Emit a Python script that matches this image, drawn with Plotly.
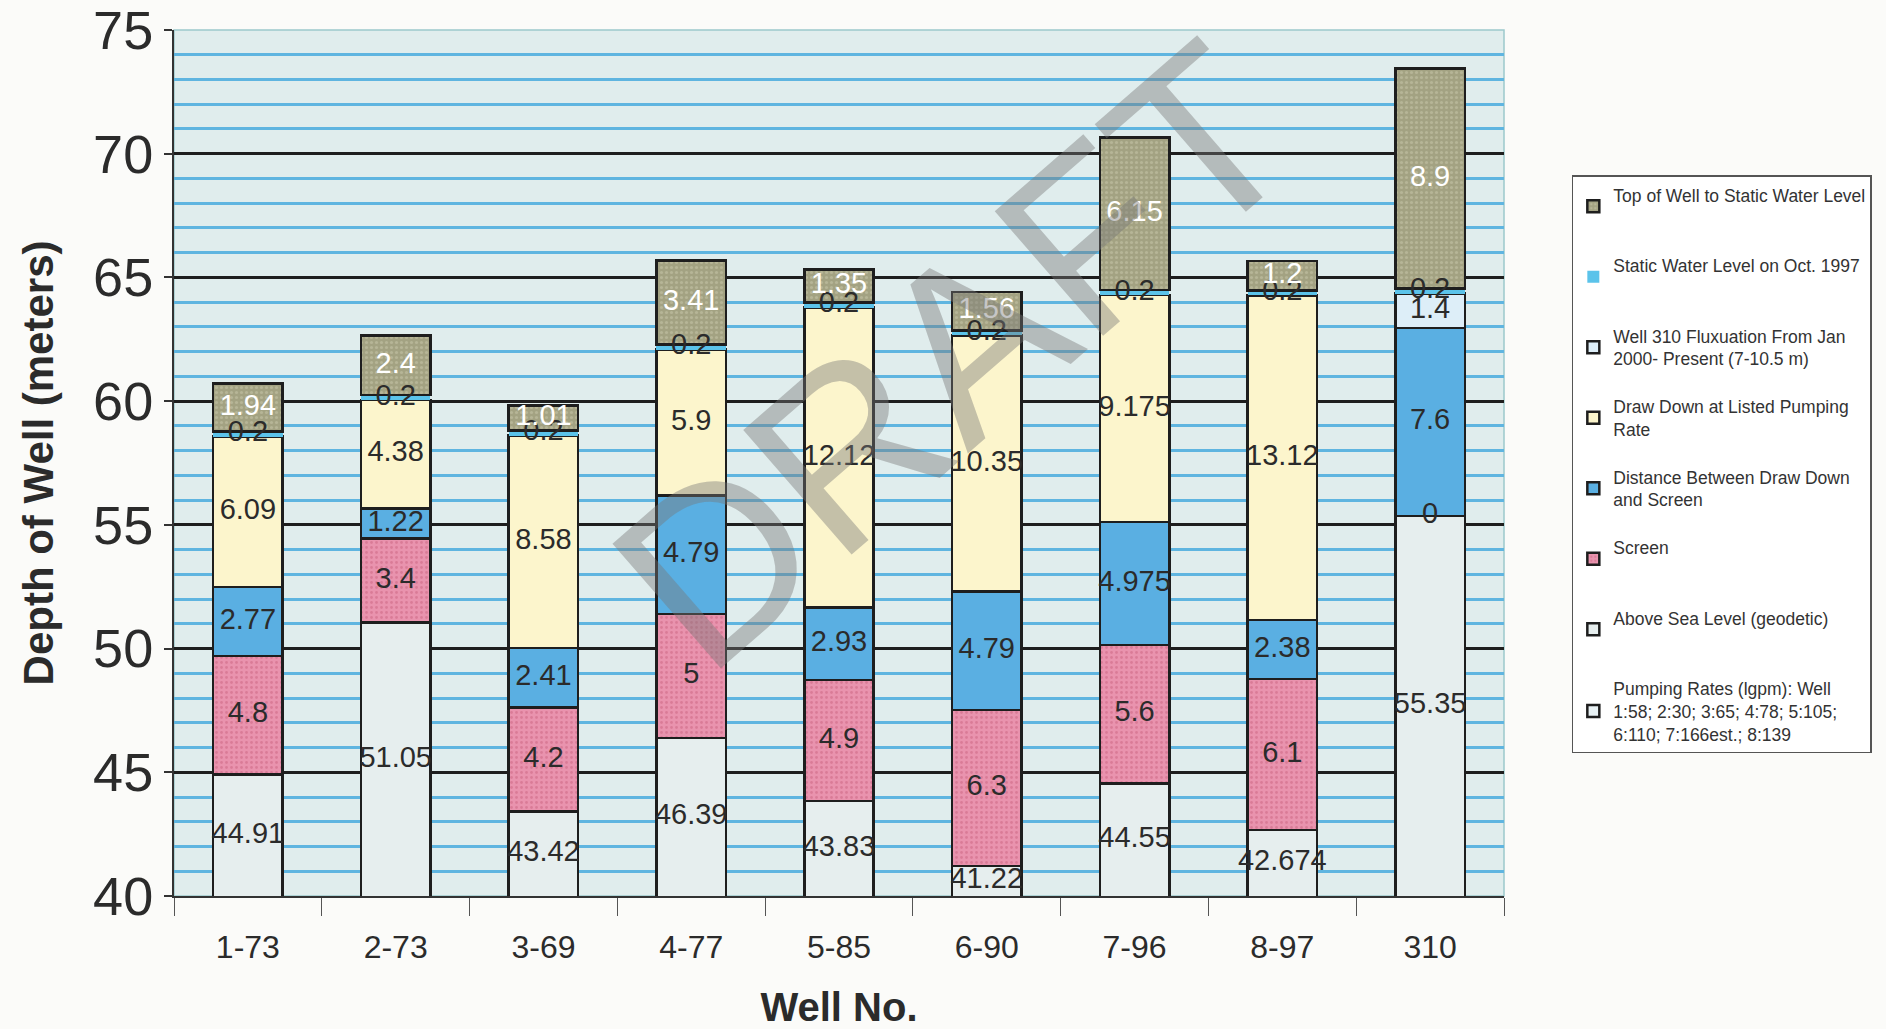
import plotly.graph_objects as go

# Wells along the x axis
wells = ["1-73", "2-73", "3-69", "4-77", "5-85", "6-90", "7-96", "8-97", "310"]

# Stacked depth components (meters), bottom to top
above_sea_level = [44.91, 51.05, 43.42, 46.39, 43.83, 41.22, 44.55, 42.674, 55.35]
screen = [4.8, 3.4, 4.2, 5, 4.9, 6.3, 5.6, 6.1, 0]
dist_drawdown_screen = [2.77, 1.22, 2.41, 4.79, 2.93, 4.79, 4.975, 2.38, 7.6]
draw_down = [6.09, 4.38, 8.58, 5.9, 12.12, 10.35, 9.175, 13.12, None]
well310_fluctuation = [None, None, None, None, None, None, None, None, 1.4]
static_water_level = [0.2, 0.2, 0.2, 0.2, 0.2, 0.2, 0.2, 0.2, 0.2]
top_to_static = [1.94, 2.4, 1.01, 3.41, 1.35, 1.56, 6.15, 1.2, 8.9]

Y_MIN, Y_MAX = 40, 75
FONT = "Liberation Sans, Arial, sans-serif"
EDGE = "#1e1e1e"

series = [
    dict(name="Above Sea Level (geodetic)<br> ", values=above_sea_level,
         color="#e6eeee", pattern=None, text="#2b2b2b", rank=7, edge=2.5),
    dict(name="Screen<br> ", values=screen,
         color="#e993ae", pattern=dict(shape=".", fgcolor="#c9637f", size=5, solidity=0.25),
         text="#2b2b2b", rank=6, edge=2.5),
    dict(name="Distance Between Draw Down<br>and Screen", values=dist_drawdown_screen,
         color="#5aafe2", pattern=None, text="#2b2b2b", rank=5, edge=2.5),
    dict(name="Draw Down at Listed Pumping<br>Rate", values=draw_down,
         color="#fcf5cc", pattern=None, text="#2b2b2b", rank=4, edge=2.5),
    dict(name="Well 310 Fluxuation From Jan<br>2000- Present (7-10.5 m)", values=well310_fluctuation,
         color="#ddeef8", pattern=None, text="#2b2b2b", rank=3, edge=2.5),
    dict(name="Static Water Level on Oct. 1997<br> ", values=static_water_level,
         color="#5bc3ea", pattern=None, text="#2b2b2b", rank=2, edge=0),
    dict(name="Top of Well to Static Water Level<br> ", values=top_to_static,
         color="#a3a282", pattern=dict(shape=".", fgcolor="#c9c8ac", size=5, solidity=0.3),
         text="#ffffff", rank=1, edge=2.5),
]

fig = go.Figure()

cum = [0.0] * len(wells)
label_x, label_y, label_t, label_c = [], [], [], []
for s in series:
    marker = dict(color=s["color"], line=dict(color=EDGE, width=s["edge"]))
    if s["pattern"]:
        marker["pattern"] = dict(shape=s["pattern"]["shape"], fgcolor=s["pattern"]["fgcolor"],
                                 size=s["pattern"]["size"], solidity=s["pattern"]["solidity"],
                                 bgcolor=s["color"])
    fig.add_trace(go.Bar(
        x=wells, y=s["values"], name=s["name"], marker=marker,
        legendrank=s["rank"], legendgroup=s["name"], hoverinfo="skip",
    ))
    # value labels centred in the visible part of each segment
    for i, v in enumerate(s["values"]):
        if v is None:
            continue
        lo = max(cum[i], Y_MIN)
        hi = cum[i] + v
        label_x.append(wells[i])
        label_y.append((lo + hi) / 2)
        label_t.append(f"{v:g}")
        label_c.append(s["text"])
        cum[i] += v

# empty legend entry holding the pumping-rate note
fig.add_trace(go.Bar(
    x=wells, y=[None] * len(wells),
    name="Pumping Rates (lgpm): Well<br>1:58; 2:30; 3:65; 4:78; 5:105;<br>6:110; 7:166est.; 8:139",
    marker=dict(color="#e8f1f4", line=dict(color=EDGE, width=2.5)),
    legendrank=8, legendgroup="pump", hoverinfo="skip",
))

fig.add_trace(go.Scatter(
    x=label_x, y=label_y, text=label_t, mode="text",
    textfont=dict(family=FONT, size=29, color=label_c),
    showlegend=False, hoverinfo="skip", cliponaxis=False,
))

fig.update_layout(
    barmode="stack",
    bargap=0.53,
    width=1886, height=1029,
    margin=dict(l=174, r=382, t=30, b=133, autoexpand=False),
    paper_bgcolor="#fbfbf9",
    plot_bgcolor="#e0eded",
    font=dict(family=FONT, color="#2b2b2b"),
    legend=dict(
        x=1.051, y=0.832, xanchor="left", yanchor="top",
        bgcolor="#ffffff", bordercolor="#555555", borderwidth=1.5,
        font=dict(size=17.5, color="#333333"),
        traceorder="grouped", tracegroupgap=22, itemwidth=30,
    ),
    xaxis=dict(
        automargin=False,
        showline=True, linecolor="#333333", linewidth=2,
        ticks="outside", tickson="boundaries", ticklen=18, tickcolor="#555555",
        ticklabelstandoff=22,
        tickfont=dict(size=32, color="#2b2b2b"),
        title=dict(text="<b>Well No.</b>", font=dict(size=40, color="#2b2b2b"), standoff=36),
        showgrid=False,
    ),
    yaxis=dict(
        automargin=False,
        range=[Y_MIN, Y_MAX], dtick=5, tick0=40,
        showline=True, linecolor="#333333", linewidth=2,
        ticks="outside", ticklen=8, tickcolor="#333333", tickwidth=2,
        tickfont=dict(size=54, color="#2b2b2b"),
        ticklabeloverflow="allow",
        showgrid=True, gridcolor=EDGE, gridwidth=2.5,
        minor=dict(dtick=1, showgrid=True, gridcolor="#5fb5e0", gridwidth=2.5, ticks=""),
        zeroline=False,
        title=dict(text="<b>Depth of Well (meters)</b>", font=dict(size=42, color="#2b2b2b"), standoff=26),
    ),
    shapes=[dict(type="rect", xref="paper", yref="paper", x0=0, x1=1, y0=0, y1=1,
                 line=dict(color="#9cc9cc", width=1.5), layer="below")],
    annotations=[dict(
        text="DRAFT", xref="paper", yref="paper", x=0.586, y=0.624,
        showarrow=False, textangle=-41,
        font=dict(size=240, color="rgba(120,120,120,0.42)", family=FONT),
    )],
)

fig.write_html("out.html")
